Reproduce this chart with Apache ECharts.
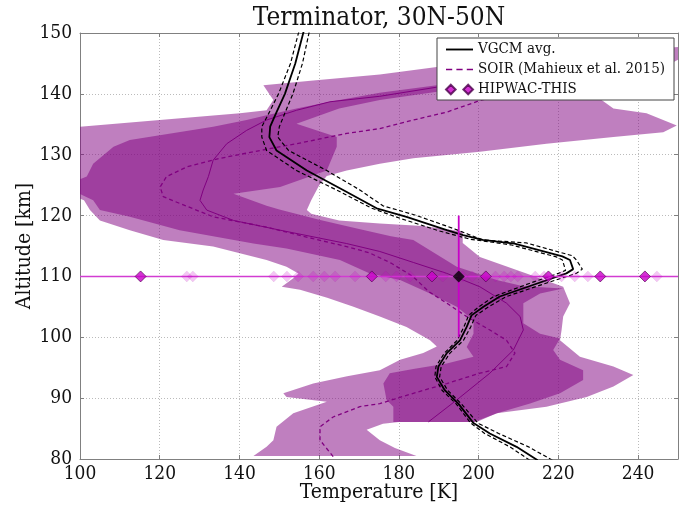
<!DOCTYPE html>
<html>
<head>
<meta charset="utf-8">
<script src="https://cdn.jsdelivr.net/npm/echarts@6/dist/echarts.min.js"></script>
<style>
  html, body { margin: 0; padding: 0; background: #fff; }
  #chart { width: 687px; height: 505px; }
</style>
</head>
<body>
<div id="chart"></div>
<script>
// Temperature [K] vs altitude [km] points, listed as [T, altitude].

// Outer (light) envelope: west side traced upward, then across the top.
const lightBandWest = [
  [143.5, 80.5], [146.8, 82.0], [148.5, 83.1], [149.3, 85.3], [153.5, 87.5], [161.9, 89.4],
  [151.8, 90.2], [151.0, 90.8], [158.5, 92.4], [167.0, 93.6], [175.2, 94.6], [180.3, 96.3],
  [186.1, 97.4], [189.5, 98.5], [187.8, 99.5], [181.9, 101.7], [175.2, 103.4], [168.6, 105.0],
  [162.0, 106.5], [155.2, 107.8], [150.6, 108.3], [153.5, 109.7], [154.8, 110.5], [151.8, 111.6],
  [146.8, 112.7], [140.1, 113.8], [133.4, 114.9], [120.9, 116.0], [112.5, 117.6], [105.0, 119.2],
  [102.5, 120.9], [101.0, 122.5], [97.0, 123.5], [97.0, 134.2], [100.0, 134.6], [120.0, 135.7],
  [140.1, 136.8], [146.8, 137.3], [148.5, 139.0], [146.0, 141.4], [158.5, 142.2], [175.2, 143.2],
  [189.5, 144.4], [215.0, 146.0], [252.0, 147.8]
];
// Outer envelope: east side traced upward.
const lightBandEast = [
  [184.4, 80.5], [179.0, 81.8], [175.2, 83.1], [171.9, 84.8], [176.0, 85.8], [180.0, 86.1],
  [199.5, 86.1], [204.5, 87.5], [217.0, 88.6], [227.1, 90.2], [233.8, 91.9], [238.8, 93.8],
  [233.8, 95.2], [225.4, 96.8], [220.4, 99.5], [220.8, 101.2], [221.2, 103.4], [222.9, 105.6],
  [221.2, 108.3], [212.0, 110.5], [200.3, 113.2], [196.0, 115.5], [196.0, 117.4], [186.0, 118.3],
  [175.2, 118.7], [165.0, 119.2], [158.0, 120.3], [156.9, 120.9], [158.0, 122.5], [160.0, 125.0],
  [161.9, 126.5], [166.9, 127.4], [175.2, 128.5], [183.6, 129.4], [200.3, 130.5], [217.0, 131.8],
  [233.8, 132.9], [246.3, 133.7], [249.7, 134.8], [242.1, 136.8], [233.8, 137.6], [230.4, 139.2],
  [236.0, 141.0], [244.0, 143.5], [252.0, 146.3]
];

// Inner (dark) envelope.
const darkBandWest = [
  [178.6, 86.1], [178.6, 88.6], [176.9, 89.7], [176.1, 92.4], [177.7, 94.1], [183.6, 94.8],
  [192.0, 95.7], [198.7, 96.8], [197.0, 98.4], [198.7, 100.6], [198.7, 102.8], [194.5, 105.0],
  [187.8, 107.2], [180.3, 109.4], [172.7, 110.5], [165.2, 112.7], [151.8, 114.6], [143.5, 115.4],
  [125.0, 117.6], [112.5, 119.8], [105.0, 120.9], [103.3, 122.5], [98.0, 124.2], [98.0, 125.5],
  [101.7, 126.4], [103.3, 128.5], [108.4, 131.3], [112.5, 132.4], [120.0, 133.2], [133.4, 134.6],
  [141.8, 135.7], [146.8, 136.5], [154.3, 137.6], [162.7, 138.7], [175.2, 140.2], [189.5, 141.4],
  [215.0, 143.2]
];
const darkBandEast = [
  [198.7, 86.1], [205.0, 87.6], [212.9, 89.1], [220.4, 90.8], [226.2, 93.0], [226.2, 94.6],
  [220.4, 96.3], [218.7, 97.9], [220.4, 99.8], [215.4, 100.6], [211.2, 102.3], [211.2, 105.6],
  [215.4, 107.2], [221.2, 108.0], [211.2, 108.4], [204.5, 109.4], [194.5, 111.6], [183.6, 116.0],
  [178.0, 116.6], [170.0, 117.8], [160.0, 119.3], [150.0, 121.0], [146.8, 121.6], [138.5, 123.6],
  [150.2, 124.7], [161.9, 127.4], [164.4, 131.3], [164.4, 132.9], [154.3, 135.1], [165.0, 137.6],
  [175.2, 139.0], [190.0, 140.4], [215.0, 142.2]
];

// Mean of the observed profiles (thin purple line).
const meanProfile = [
  [187.4, 86.1], [194.5, 89.7], [202.8, 94.1], [208.7, 97.9], [211.2, 101.2], [210.4, 103.4],
  [207.0, 105.6], [200.3, 108.3], [192.0, 110.5], [183.6, 112.3], [175.2, 114.1], [166.9, 115.4],
  [150.2, 117.6], [138.5, 119.2], [131.8, 120.9], [130.1, 122.5], [130.9, 124.2], [132.2, 126.4],
  [133.4, 129.1], [136.8, 131.8], [141.8, 134.0], [146.8, 135.7], [154.3, 137.3], [162.7, 138.7],
  [175.2, 139.6], [189.5, 141.1], [205.0, 142.0]
];

// SOIR (Mahieux et al. 2015)
const soirProfile = [
  [163.5, 80.4], [160.2, 83.1], [160.2, 85.3], [163.5, 86.9], [170.2, 88.6], [175.2, 89.1],
  [183.6, 90.8], [192.0, 92.4], [200.3, 94.1], [207.0, 95.2], [209.1, 97.4], [207.0, 99.5],
  [202.8, 101.2], [197.0, 103.4], [192.0, 105.6], [187.5, 107.5], [183.5, 110.0], [178.0, 112.2],
  [172.5, 113.9], [166.9, 114.9], [158.5, 116.2], [146.8, 118.1], [133.4, 119.8], [125.0, 122.0],
  [120.9, 123.1], [120.1, 124.7], [121.7, 126.4], [126.8, 128.0], [135.1, 129.4], [145.2, 130.7],
  [154.3, 131.8], [166.9, 133.5], [175.2, 134.3], [183.6, 135.7], [192.0, 137.0], [200.3, 138.9],
  [215.0, 141.5]
];

// VGCM average and its spread.
const vgcmAvg = [
  [214.8, 79.8], [209.5, 82.0], [202.8, 84.2], [198.7, 85.9], [194.9, 89.1], [191.5, 91.3],
  [189.5, 93.5], [189.9, 95.2], [192.0, 97.4], [195.3, 99.5], [197.0, 101.7], [198.2, 103.6],
  [201.2, 105.0], [205.3, 106.7], [214.5, 108.8], [222.0, 110.5], [223.7, 111.2], [222.9, 112.7],
  [221.0, 113.3], [209.0, 115.4], [201.0, 116.0], [196.1, 116.8], [192.0, 117.6], [181.9, 119.8],
  [174.4, 121.2], [166.0, 124.2], [156.9, 127.4], [149.3, 130.7], [147.5, 132.9], [147.7, 134.6],
  [149.3, 137.0], [151.4, 140.0], [154.0, 145.0], [156.2, 150.5]
];
const vgcmLow = [
  [212.8, 79.8], [207.8, 82.0], [201.5, 84.2], [198.0, 85.9], [194.3, 89.1], [190.8, 91.3],
  [189.0, 93.5], [189.3, 95.2], [191.4, 97.4], [194.6, 99.5], [196.3, 101.7], [197.5, 103.6],
  [200.0, 105.0], [203.8, 106.7], [212.5, 108.8], [220.0, 110.5], [221.8, 111.0], [221.0, 112.7],
  [219.5, 113.2], [208.0, 115.2], [198.0, 116.1], [194.5, 116.7], [190.0, 117.5], [180.5, 119.5],
  [173.2, 121.2], [164.4, 124.2], [154.3, 127.4], [146.8, 130.7], [145.6, 132.9], [145.6, 134.6],
  [147.5, 137.0], [149.8, 140.0], [152.8, 145.0], [155.0, 150.5]
];
const vgcmHigh = [
  [218.5, 79.8], [212.5, 82.0], [205.0, 84.2], [199.8, 85.9], [195.6, 89.1], [192.2, 91.3],
  [190.2, 93.5], [190.6, 95.2], [192.8, 97.4], [196.2, 99.5], [198.0, 101.7], [199.3, 103.6],
  [202.5, 105.0], [207.0, 106.7], [216.5, 108.8], [224.5, 110.5], [226.0, 111.2], [224.5, 112.7],
  [223.5, 113.4], [212.0, 115.5], [201.0, 116.0], [197.5, 116.9], [194.0, 117.8], [184.0, 120.1],
  [176.0, 121.6], [170.2, 124.2], [161.9, 127.4], [152.3, 130.7], [149.6, 132.9], [150.0, 134.6],
  [151.5, 137.0], [153.4, 140.0], [155.8, 145.0], [157.6, 150.5]
];

// HIPWAC-THIS retrievals at a single altitude.
const hipwacAltitude = 110;
const hipwacMeanT = 195;
const hipwacAltError = [100, 120];
const hipwacT = [115.2, 173.2, 188.3, 201.8, 217.5, 230.5, 241.7];
const hipwacFaintT = [
  126.8, 128.3, 148.6, 151.9, 154.7, 158.5, 161.3, 164.0, 169.0, 176.7, 179.4, 182.8,
  191.0, 196.0, 198.4, 204.2, 206.4, 208.1, 209.8, 214.2, 216.4, 220.8, 224.1, 227.4, 244.7
];

// Axis ranges and tick spacing.
const tempRange = [100, 250];
const tempStep = 20;
const altRange = [80, 150];
const altStep = 10;

const SERIF = "'DejaVu Serif Condensed', 'DejaVu Serif', serif";
const PURPLE = '#800080';
const MAGENTA = '#c800c8';

// Legend glyphs: solid bar, three dashes, two diamonds.
const ICON_SOLID = 'path://M0,0h26v1.8h-26z';
const ICON_DASHED = 'path://M0,0h6v1.5h-6z M10,0h6v1.5h-6z M20,0h6v1.5h-6z';
const ICON_DIAMONDS = 'path://M5,0L10,5L5,10L0,5Z M23,0L28,5L23,10L18,5Z';

function polygonSeries(west, east, fill) {
  const outline = west.concat(east.slice().reverse());
  return {
    type: 'custom',
    data: [outline[0]],
    encode: { x: 0, y: 1 },
    silent: true,
    z: 1,
    renderItem: function (params, api) {
      const cs = params.coordSys;
      return {
        type: 'polygon',
        shape: { points: outline.map(p => api.coord(p)) },
        style: { fill: fill },
        clipPath: { type: 'rect', shape: { x: cs.x, y: cs.y, width: cs.width, height: cs.height } }
      };
    }
  };
}

function lineSeries(name, data, style, z) {
  return {
    name: name,
    type: 'line',
    data: data,
    symbol: 'none',
    silent: true,
    z: z,
    lineStyle: style,
    itemStyle: { color: style.color }
  };
}

const chart = echarts.init(document.getElementById('chart'), null, { renderer: 'canvas' });

const axisLabelStyle = { fontFamily: SERIF, fontSize: 19, color: '#111' };
const gridLine = { show: true, lineStyle: { color: '#bbbbbb', type: [1, 2], width: 1 } };
const frameLine = { show: true, lineStyle: { color: '#808080', width: 1 } };
const innerTick = { show: true, inside: true, length: 4, lineStyle: { color: '#808080' } };

chart.setOption({
  animation: false,
  backgroundColor: '#ffffff',
  title: {
    text: 'Terminator, 30N-50N',
    left: 379,
    top: 5,
    padding: 0,
    textAlign: 'center',
    textStyle: { fontFamily: SERIF, fontSize: 26, fontWeight: 'normal', color: '#111' }
  },
  grid: { left: 80, right: 9, top: 33, bottom: 46, outerBoundsMode: 'none' },
  legend: {
    left: 437,
    top: 38,
    orient: 'vertical',
    backgroundColor: '#ffffff',
    borderColor: '#444444',
    borderWidth: 1,
    borderRadius: 0,
    padding: [4, 9, 3, 8],
    itemGap: 5,
    itemWidth: 27,
    itemHeight: 10,
    z: 20,
    selectedMode: false,
    textStyle: { fontFamily: SERIF, fontSize: 15, color: '#111' },
    data: [
      { name: 'VGCM avg.', icon: ICON_SOLID },
      { name: 'SOIR (Mahieux et al. 2015)', icon: ICON_DASHED },
      { name: 'HIPWAC-THIS', icon: ICON_DIAMONDS }
    ]
  },
  xAxis: [
    {
      type: 'value', min: tempRange[0], max: tempRange[1], interval: tempStep,
      name: 'Temperature [K]', nameLocation: 'middle', nameGap: 23, nameMoveOverlap: false,
      nameTextStyle: { fontFamily: SERIF, fontSize: 21, color: '#111' },
      axisLine: frameLine,
      axisTick: innerTick,
      axisLabel: Object.assign({ margin: 6, showMaxLabel: false }, axisLabelStyle),
      splitLine: gridLine
    },
    {
      type: 'value', position: 'top', min: tempRange[0], max: tempRange[1], interval: tempStep,
      axisLine: frameLine, axisTick: innerTick,
      axisLabel: { show: false }, splitLine: { show: false }
    }
  ],
  yAxis: [
    {
      type: 'value', min: altRange[0], max: altRange[1], interval: altStep,
      name: 'Altitude [km]', nameLocation: 'middle', nameGap: 45, nameRotate: 90, nameMoveOverlap: false,
      nameTextStyle: { fontFamily: SERIF, fontSize: 21, color: '#111' },
      axisLine: frameLine,
      axisTick: innerTick,
      axisLabel: Object.assign({ margin: 8 }, axisLabelStyle),
      splitLine: gridLine
    },
    {
      type: 'value', position: 'right', min: altRange[0], max: altRange[1], interval: altStep,
      axisLine: frameLine, axisTick: innerTick,
      axisLabel: { show: false }, splitLine: { show: false }
    }
  ],
  series: [
    polygonSeries(lightBandWest, lightBandEast, 'rgba(128,0,128,0.5)'),
    polygonSeries(darkBandWest, darkBandEast, 'rgba(128,0,128,0.5)'),
    lineSeries('mean', meanProfile, { color: PURPLE, width: 1 }, 3),
    lineSeries('SOIR (Mahieux et al. 2015)', soirProfile, { color: PURPLE, width: 1.3, type: [4, 3] }, 3),
    lineSeries('VGCM spread low', vgcmLow, { color: '#000000', width: 1.2, type: [4, 2.5] }, 4),
    lineSeries('VGCM spread high', vgcmHigh, { color: '#000000', width: 1.2, type: [4, 2.5] }, 4),
    lineSeries('VGCM avg.', vgcmAvg, { color: '#000000', width: 1.8 }, 5),
    lineSeries('temperature range', [[tempRange[0], hipwacAltitude], [tempRange[1], hipwacAltitude]],
      { color: '#d23cd2', width: 1.6 }, 6),
    lineSeries('altitude range', [[hipwacMeanT, hipwacAltError[0]], [hipwacMeanT, hipwacAltError[1]]],
      { color: MAGENTA, width: 1.8 }, 6),
    {
      name: 'faint retrievals',
      type: 'scatter',
      symbol: 'diamond',
      symbolSize: 11,
      silent: true,
      z: 7,
      data: hipwacFaintT.map(t => [t, hipwacAltitude]),
      itemStyle: { color: 'rgba(205,0,205,0.28)', borderColor: 'rgba(120,0,120,0.15)', borderWidth: 0.6 }
    },
    {
      name: 'HIPWAC-THIS',
      type: 'scatter',
      symbol: 'diamond',
      symbolSize: 11,
      silent: true,
      z: 8,
      data: hipwacT.map(t => [t, hipwacAltitude]),
      itemStyle: { color: MAGENTA, borderColor: '#4a004a', borderWidth: 0.8 }
    },
    {
      name: 'retrieval mean',
      type: 'scatter',
      symbol: 'diamond',
      symbolSize: 12,
      silent: true,
      z: 9,
      data: [[hipwacMeanT, hipwacAltitude]],
      itemStyle: { color: '#000000' }
    }
  ]
});
</script>
</body>
</html>
